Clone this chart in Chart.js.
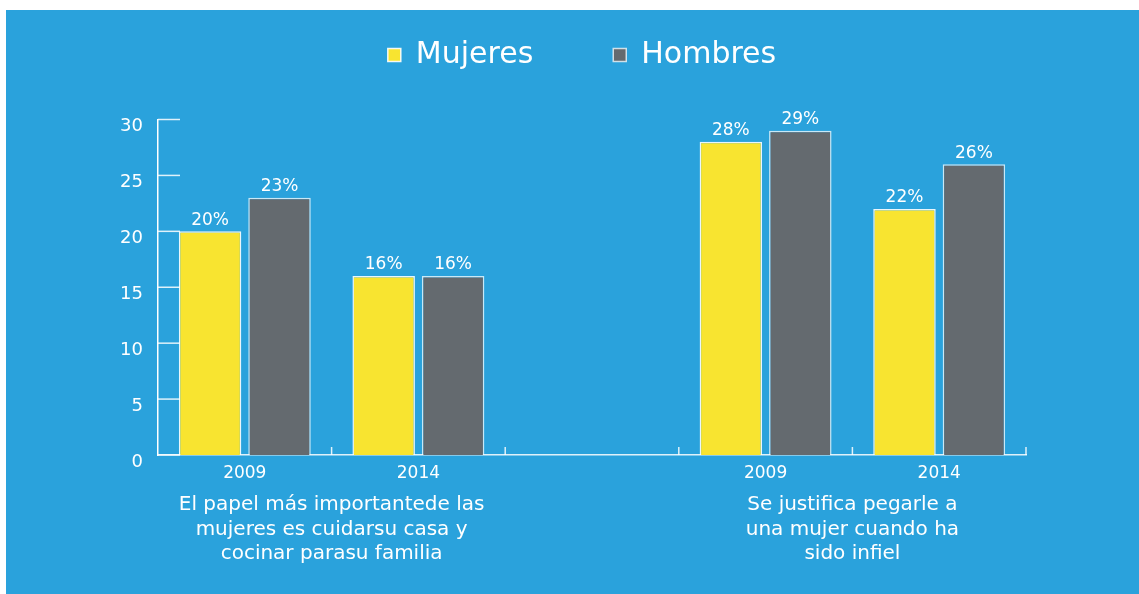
<!DOCTYPE html>
<html>
<head>
<meta charset="utf-8">
<script src="https://cdn.jsdelivr.net/npm/chart.js@4/dist/chart.umd.min.js"></script>
<style>
body{margin:0;background:#fff;}
#caja{position:absolute;left:6px;top:10px;width:1133px;height:584px;background:#2aa2dc;}
</style>
</head>
<body>
<div id="caja"><canvas id="grafica" width="1133" height="584"></canvas></div>
<script>
// DATOS
const categorias=['2009','2014','','2009','2014'];
const mujeres=[20,16,null,28,22];
const hombres=[23,16,null,29,26];
const grupos=[
    ['El papel más importantede las','mujeres es cuidarsu casa y','cocinar parasu familia'],
    ['Se justifica pegarle a','una mujer cuando ha','sido infiel']
];
// cada grupo va centrado entre estas dos categorias
const gruposPos=[[0,1],[3,4]];

const fuente='"DejaVu Sans", sans-serif';
const blanco='rgba(255,255,255,0.85)';

// la leyenda ocupa un alto fijo y se corre a la derecha
const ajusteLeyenda={
    id:'ajusteLeyenda',
    beforeUpdate(chart){
        if(chart.legend && !chart.legend._parcheado){
            const fit=chart.legend.fit.bind(chart.legend);
            chart.legend.fit=function(){fit();this.height=159.5;};
            chart.legend._parcheado=true;
        }
    },
    afterLayout(chart){
        chart.legend.left+=66;
        chart.legend.right+=66;
    }
};

// marcas hacia dentro en los ejes
const marcas={
    id:'marcas',
    beforeDatasetsDraw(chart){
        const {ctx,scales:{x,y}}=chart;
        ctx.save();
        ctx.strokeStyle=blanco;
        ctx.lineWidth=1.5;
        y.ticks.forEach(t=>{
            const py=y.getPixelForValue(t.value);
            ctx.beginPath();ctx.moveTo(x.left,py);ctx.lineTo(x.left+22,py);ctx.stroke();
        });
        const medio=(x.getPixelForValue(1)-x.getPixelForValue(0))/2;
        for(let i=0;i<categorias.length;i++){
            const px=x.getPixelForValue(i)+medio;
            ctx.beginPath();ctx.moveTo(px,y.bottom);ctx.lineTo(px,y.bottom-8);ctx.stroke();
        }
        ctx.restore();
    },
    afterDatasetsDraw(chart){
        const {ctx,scales:{x}}=chart;
        ctx.save();
        ctx.fillStyle='#fff';
        ctx.textAlign='center';
        ctx.font='17px '+fuente;
        chart.data.datasets.forEach((ds,di)=>{
            chart.getDatasetMeta(di).data.forEach((el,i)=>{
                if(ds.data[i]==null) return;
                ctx.fillText(ds.data[i]+'%',el.x,el.y-11);
            });
        });
        // textos de los grupos
        ctx.font='20px '+fuente;
        ctx.textBaseline='middle';
        grupos.forEach((lineas,g)=>{
            const [a,b]=gruposPos[g];
            const cx=(x.getPixelForValue(a)+x.getPixelForValue(b))/2;
            lineas.forEach((t,l)=>{
                ctx.fillText(t,cx,x.top+50+l*24.5);
            });
        });
        ctx.restore();
    }
};

new Chart(document.getElementById('grafica'),{
    type:'bar',
    data:{
        labels:categorias,
        datasets:[
            {label:'Mujeres',data:mujeres,backgroundColor:'#f8e430',borderColor:'rgba(255,255,255,0.9)',borderWidth:1.5},
            {label:'Hombres',data:hombres,backgroundColor:'#646a6f',borderColor:'rgba(255,255,255,0.75)',borderWidth:1.5}
        ]
    },
    options:{
        responsive:false,
        animation:false,
        layout:{padding:{top:-50,left:0,right:113,bottom:0}},
        plugins:{
            legend:{
                labels:{
                    color:'#fff',
                    font:{family:fuente,size:30},
                    boxWidth:13,
                    boxHeight:13,
                    padding:80
                }
            },
            tooltip:{enabled:false}
        },
        scales:{
            x:{
                grid:{display:false},
                border:{color:blanco,width:1.5},
                ticks:{color:'#fff',font:{family:fuente,size:17},padding:0},
                afterFit(s){s.height=139;}
            },
            y:{
                min:0,max:30,
                grid:{display:false,drawTicks:false},
                border:{color:'#fff',width:1.5},
                ticks:{stepSize:5,color:'#fff',font:{family:fuente,size:18},padding:15,labelOffset:7},
                afterFit(s){s.width=152;}
            }
        }
    },
    plugins:[ajusteLeyenda,marcas]
});
</script>
</body>
</html>
